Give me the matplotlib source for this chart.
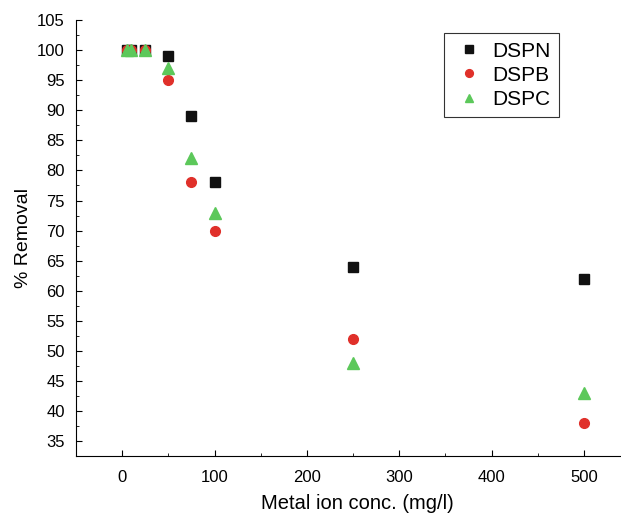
import matplotlib
matplotlib.use("Agg")
import matplotlib.pyplot as plt
from matplotlib.ticker import MultipleLocator

x = [5, 10, 25, 50, 75, 100, 250, 500]
dspn = [100, 100, 100, 99, 89, 78, 64, 62]
dspb = [100, 100, 100, 95, 78, 70, 52, 38]
dspc = [100, 100, 100, 97, 82, 73, 48, 43]

plt.rcParams['font.family'] = ['Liberation Sans', 'DejaVu Sans']

fig = plt.figure(figsize=(6.21, 5.14), dpi=100)
ax = fig.add_axes([0.1224, 0.1128, 0.8776, 0.848])

ax.plot(x, dspn, ls='none', marker='s', ms=6.5, color='#111111', label='DSPN')
ax.plot(x, dspb, ls='none', marker='o', ms=7, color='#e0302a', label='DSPB')
ax.plot(x, dspc, ls='none', marker='^', ms=8, color='#5cc85a', label='DSPC')

ax.set_xlim(-50, 540)
ax.set_ylim(32.5, 105)
ax.xaxis.set_major_locator(MultipleLocator(100))
ax.xaxis.set_minor_locator(MultipleLocator(50))
ax.yaxis.set_major_locator(MultipleLocator(5))
ax.yaxis.set_minor_locator(MultipleLocator(2.5))
ax.tick_params(which='both', direction='in', labelsize=12)
ax.tick_params(which='major', length=4)
ax.tick_params(which='minor', length=2)
ax.tick_params(axis='x', pad=10)
ax.tick_params(axis='y', pad=8)
for s in ['top', 'right']:
    ax.spines[s].set_visible(False)

ax.set_xlabel('Metal ion conc. (mg/l)', fontsize=14.5)
ax.xaxis.set_label_coords(0.517, -0.088)
ax.set_ylabel('% Removal', fontsize=14)

leg = ax.legend(loc='upper right', bbox_to_anchor=(0.886, 0.97), fontsize=15,
                frameon=True, fancybox=False, edgecolor='black', handletextpad=0.3,
                handlelength=1.6, labelspacing=0.25, borderpad=0.4, markerscale=0.8,
                borderaxespad=0)
leg.get_frame().set_linewidth(0.8)

fig.savefig('out.png', dpi=100)
